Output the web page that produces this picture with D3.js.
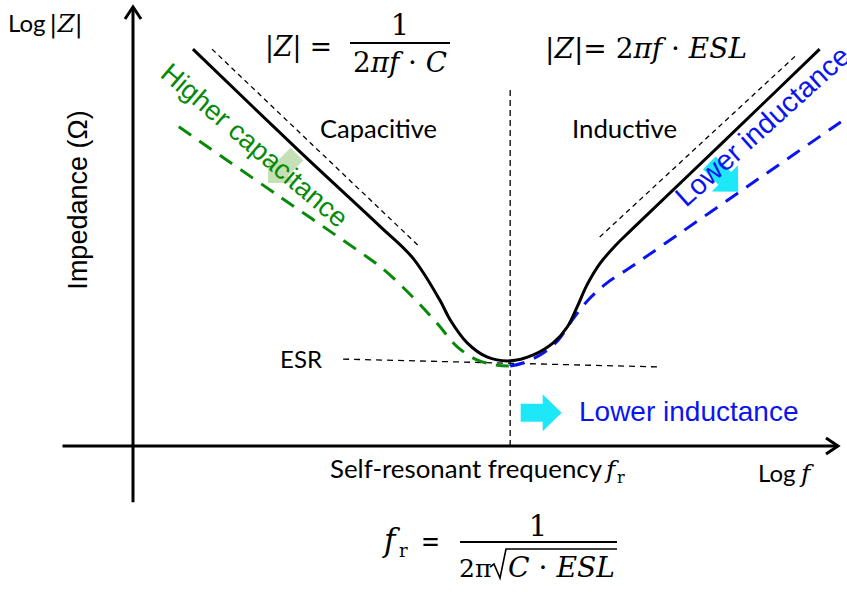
<!DOCTYPE html>
<html>
<head>
<meta charset="utf-8">
<script src="https://cdn.jsdelivr.net/npm/d3@7"></script>
<style>
  body { margin: 0; background: #fff; }
  svg { display: block; }
</style>
</head>
<body>
<div class="chart"></div>
<script>
// curves in chart units: x = log f (0..100), y = log|Z| (0..100)
const nominalCurve = [
  [8.5, 90.4], [23.7, 67.0], [35.0, 50.1], [39.7, 42.8], [43.5, 33.3],
  [45.0, 28.7], [47.4, 23.5], [50.2, 20.3], [53.5, 19.4], [56.7, 20.7],
  [59.6, 23.5], [61.6, 27.1], [63.0, 31.7], [64.4, 36.7], [66.2, 41.5],
  [68.4, 45.6], [70.8, 49.4], [83.3, 68.6], [97.4, 90.4]
];
const higherCapCurve = [
  [6.5, 72.7], [20.9, 56.7], [33.6, 42.6], [35.5, 40.3], [39.7, 33.9],
  [43.1, 28.0], [46.0, 22.6], [48.8, 19.6], [51.3, 18.5], [53.3, 18.2]
];
const lowerEslCurve = [
  [53.5, 18.2], [55.3, 18.9], [58.2, 21.2], [60.3, 24.1], [62.3, 28.7],
  [64.6, 33.3], [67.2, 37.1], [70.2, 40.3], [72.3, 42.6], [87.5, 59.5],
  [103.1, 76.8]
];
const capAsymptote = [[11.2, 90.4], [40.7, 45.3]];
const indAsymptote = [[66.2, 47.6], [94.2, 89.2]];
const esrLine      = [[29.8, 19.8], [74.8, 18.0]];
const resonance    = { x: 53.5, top: 81.3 };

// block arrows: centre (chart units) and direction in degrees
const shiftArrows = [
  { x: 21.2, y: 63.2, angle: 135, color: '#c5e0b4' },
  { x: 83.8, y: 61.2, angle: 45,  color: '#1ee8f7' },
  { x: 57.9, y: 7.6,  angle: 0,   color: '#1ee8f7' }
];

const W = 847, H = 592;
const sans = 'Lato, "Open Sans", sans-serif';
const arial = '"Liberation Sans", Arial, sans-serif';
const serif = '"DejaVu Serif", serif';

const x = d3.scaleLinear().domain([0, 100]).range([133, 838]);
const y = d3.scaleLinear().domain([0, 100]).range([446, 7]);

const svg = d3.select('.chart').append('svg')
  .attr('width', W).attr('height', H)
  .attr('viewBox', `0 0 ${W} ${H}`);

const line = d3.line().x(d => x(d[0])).y(d => y(d[1]));
const smooth = d3.line().x(d => x(d[0])).y(d => y(d[1])).curve(d3.curveCatmullRom.alpha(0.5));

// axes
const axisG = svg.append('g').attr('stroke', '#000').attr('stroke-width', 3).attr('fill', 'none');
axisG.append('path').attr('d', line([[-10, 0], [100, 0]]));
axisG.append('path').attr('d', line([[0, -12.8], [0, 100]]));
axisG.append('path')
  .attr('d', `M${x(100) - 12},${y(0) - 8}L${x(100)},${y(0)}L${x(100) - 12},${y(0) + 8}`)
  .attr('stroke-linejoin', 'miter');
axisG.append('path')
  .attr('d', `M${x(0) - 8},${y(100) + 12}L${x(0)},${y(100)}L${x(0) + 8},${y(100) + 12}`)
  .attr('stroke-linejoin', 'miter');

// thin dashed guides
const guides = svg.append('g').attr('stroke', '#000').attr('stroke-width', 1.3).attr('fill', 'none');
guides.append('path').attr('d', line(capAsymptote)).attr('stroke-dasharray', '5,4');
guides.append('path').attr('d', line(indAsymptote)).attr('stroke-dasharray', '5,4');
guides.append('path').attr('d', line(esrLine)).attr('stroke-dasharray', '6,5');
guides.append('path').attr('d', line([[resonance.x, 0], [resonance.x, resonance.top]]))
  .attr('stroke-dasharray', '6,4');

// impedance curves
svg.append('path').attr('d', smooth(higherCapCurve))
  .attr('fill', 'none').attr('stroke', '#078a07').attr('stroke-width', 3)
  .attr('stroke-dasharray', '15,10');
svg.append('path').attr('d', smooth(lowerEslCurve))
  .attr('fill', 'none').attr('stroke', '#0a14f0').attr('stroke-width', 3)
  .attr('stroke-dasharray', '15,10');
svg.append('path').attr('d', smooth(nominalCurve))
  .attr('fill', 'none').attr('stroke', '#000').attr('stroke-width', 3);

// block arrows
const arrowShape = 'M-20.5,-9L1.5,-9L1.5,-18.5L20.5,0L1.5,18.5L1.5,9L-20.5,9Z';
svg.append('g').selectAll('path')
  .data(shiftArrows).enter().append('path')
  .attr('d', arrowShape)
  .attr('transform', d => `translate(${x(d.x)},${y(d.y)}) rotate(${d.angle})`)
  .attr('fill', d => d.color);

// plain labels
function label(txt, px, py, opts = {}) {
  const t = svg.append('text')
    .attr('x', px).attr('y', py)
    .attr('font-family', opts.font || sans)
    .attr('font-size', opts.size || 24)
    .attr('fill', opts.color || '#000')
    .attr('text-anchor', opts.anchor || 'start')
    .text(txt);
  if (opts.rotate) t.attr('transform', `rotate(${opts.rotate},${px},${py})`);
  if (opts.len) t.attr('textLength', opts.len).attr('lengthAdjust', 'spacingAndGlyphs');
  return t;
}

// math pieces: parts = [[text, italic]]
function math(parts, px, py, size, len) {
  const t = svg.append('text')
    .attr('x', px).attr('y', py)
    .attr('font-family', serif)
    .attr('font-size', size)
    .attr('fill', '#000');
  parts.forEach(([s, it]) => {
    t.append('tspan').attr('font-style', it ? 'italic' : 'normal').text(s);
  });
  if (len) t.attr('textLength', len).attr('lengthAdjust', 'spacingAndGlyphs');
  return t;
}

label('Capacitive', 320, 138, { size: 25, len: 117 });
label('Inductive', 572, 138, { size: 25, len: 105 });
label('ESR', 322, 368, { size: 24, anchor: 'end' });
label('Impedance (\u03a9)', 87, 200, { font: arial, size: 27, anchor: 'middle', rotate: -90 });
label('Higher capacitance', 159, 76, { font: arial, size: 27.5, color: '#078a07', rotate: 40.5 });
label('Lower inductance', 686, 208, { font: arial, size: 28.5, color: '#0a14f0', rotate: -42 });
label('Lower inductance', 579, 421, { font: arial, size: 28, color: '#0a14f0' });

// axis titles
label('Log', 8, 32, { size: 24 });
math([['|', false], ['Z', true], ['|', false]], 49, 32, 25, 34);
label('Log', 758, 482, { size: 24 });
math([['f', true]], 801, 482, 25);
label('Self-resonant frequency', 330, 478, { size: 25, len: 272 });
math([['f', true]], 606, 478, 25);
math([['r', false]], 617, 483, 16);

// |Z| = 1 / (2 pi f C)
math([['|', false], ['Z', true], ['|', false], [' =', false]], 265, 56, 28, 67);
svg.append('line').attr('x1', 350).attr('x2', 450).attr('y1', 43).attr('y2', 43)
  .attr('stroke', '#000').attr('stroke-width', 2.2);
math([['1', false]], 400, 35, 29).attr('text-anchor', 'middle');
math([['2', false], ['\u03c0f', true], [' \u00b7 ', false], ['C', true]], 353, 72, 27, 94);

// |Z| = 2 pi f ESL
math([['|', false], ['Z', true], ['|= 2', false], ['\u03c0f', true], [' \u00b7 ', false], ['ESL', true]],
  545, 58, 28, 202);

// f_r = 1 / (2 pi sqrt(C ESL))
math([['f', true]], 384, 551, 31);
math([['r', false]], 399, 557, 18);
math([['=', false]], 421, 551, 28, 19);
svg.append('line').attr('x1', 460).attr('x2', 617).attr('y1', 542).attr('y2', 542)
  .attr('stroke', '#000').attr('stroke-width', 2.2);
math([['1', false]], 538, 536, 29).attr('text-anchor', 'middle');
math([['2\u03c0', false]], 459, 577, 25);
svg.append('path').attr('d', 'M490,567L494,564L500,578L506,549L617,549')
  .attr('fill', 'none').attr('stroke', '#000').attr('stroke-width', 1.6);
math([['C', true], [' \u00b7 ', false], ['ESL', true]], 508, 577, 27, 107);
</script>
</body>
</html>
